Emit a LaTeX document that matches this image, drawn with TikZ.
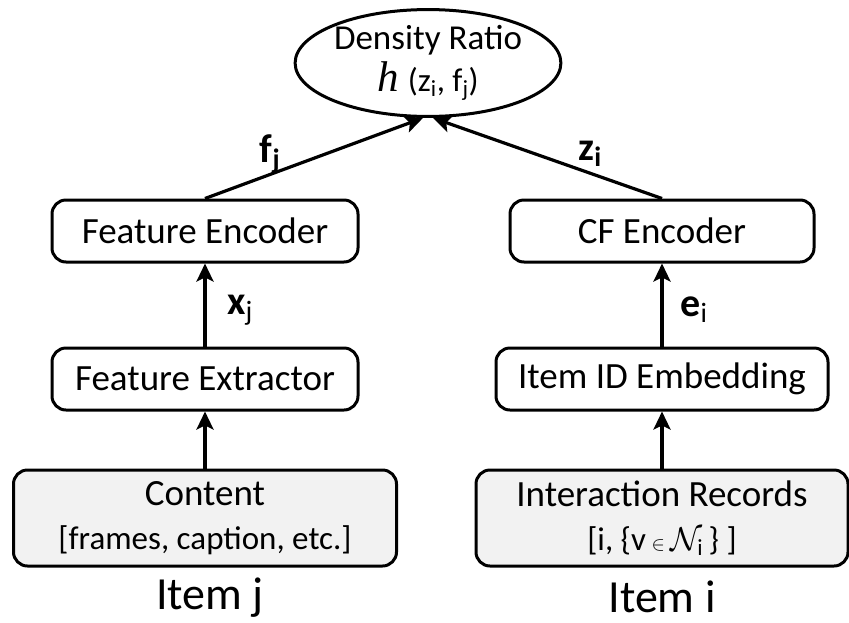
\RequirePackage{fix-cm}
\documentclass[tikz,border=0pt]{standalone}
\usepackage{fontspec}
\setmainfont{Carlito}
\newfontfamily\hserif{Liberation Serif}
\usetikzlibrary{shapes.geometric,arrows.meta}
\begin{document}
\begin{tikzpicture}[x=1pt,y=-1pt,
  box/.style={draw,line width=3pt,rounded corners=14pt,inner sep=0pt,font=\fontsize{37}{42}\selectfont},
  inbox/.style={box,fill=gray!10},
  arr/.style={line width=3.2pt,-{Stealth[length=18pt,width=17pt,inset=4pt]}},
  lbl/.style={font=\fontsize{40}{44}\selectfont}]
\useasboundingbox (0,0) rectangle (849,622);
\node[draw,ellipse,line width=3pt,minimum width=244pt,minimum height=104pt,inner sep=0pt,align=center] (dr) at (428,63)
  {\fontsize{35}{38}\selectfont Density Ratio\\[6pt]
   {\hserif\itshape\fontsize{43}{40}\selectfont h}\hspace{9pt}{\fontsize{33}{33}\selectfont(z\textsubscript{i}, f\textsubscript{j})}};
\node[box,minimum width=306pt,minimum height=62pt] (fenc) at (205,231) {Feature Encoder};
\node[box,minimum width=304pt,minimum height=62pt] (cfenc) at (662,231) {CF Encoder};
\node[box,minimum width=306pt,minimum height=62pt] (fext) at (205,379) {Feature Extractor};
\node[box,minimum width=332pt,minimum height=62pt] (iide) at (662,379) {Item ID Embedding};
\node[inbox,minimum width=383pt,minimum height=96pt,align=center] (cont) at (205,518)
  {Content\\[2pt]{\fontsize{33}{36}\selectfont[frames, caption, etc.]}};
\node[inbox,minimum width=372pt,minimum height=96pt,align=center] (inter) at (662,518)
  {Interaction Records\\[2pt]{\fontsize{33}{36}\selectfont[i, \{v\,{\fontsize{20}{20}\selectfont$\in$}\,$\mathcal{N}_{\mathrm{i}}$\,\} ]}};
\node[font=\fontsize{46}{50}\selectfont] (itj) at (210,598) {Item j};
\node[font=\fontsize{46}{50}\selectfont] (iti) at (662,597) {Item i};
\draw[arr] (fenc.north) -- ([xshift=-5pt]dr.south);
\draw[arr] (cfenc.north) -- ([xshift=5pt]dr.south);
\draw[arr] (fext.north) -- (fenc.south);
\draw[arr] (cont.north) -- (fext.south);
\draw[arr] (iide.north) -- (cfenc.south);
\draw[arr] (inter.north) -- (iide.south);
\node[lbl] (lf) at (270,154) {\textbf{f\textsubscript{j}}};
\node[lbl] (lz) at (590,154) {\textbf{z\textsubscript{i}}};
\node[lbl] (lx) at (240,310) {\textbf{x}\textsubscript{j}};
\node[lbl] (le) at (694,310) {\textbf{e}\textsubscript{i}};
\end{tikzpicture}
\end{document}
